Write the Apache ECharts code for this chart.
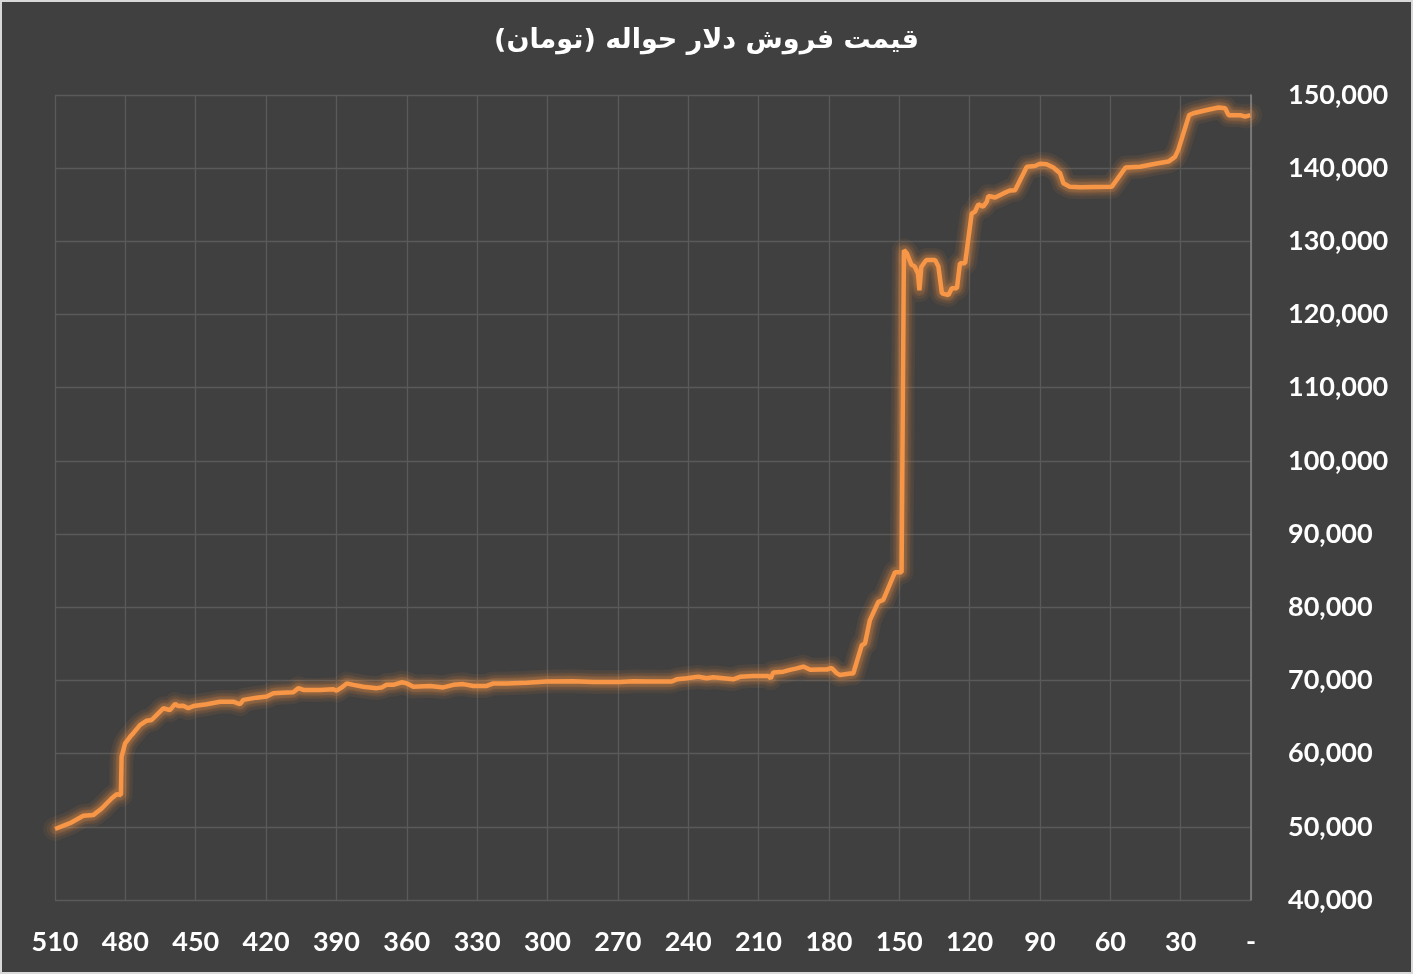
<!DOCTYPE html>
<html>
<head>
<meta charset="utf-8">
<script src="https://cdn.jsdelivr.net/npm/echarts@6/dist/echarts.min.js"></script>
<style>
html,body{margin:0;padding:0;background:#404040;}
#chart{width:1413px;height:974px;}
</style>
</head>
<body>
<div id="chart"></div>
<script>
const titleText = 'قیمت فروش دلار حواله (تومان)';
const xTicks = [510,480,450,420,390,360,330,300,270,240,210,180,150,120,90,60,30,0];
const yTicks = [40000,50000,60000,70000,80000,90000,100000,110000,120000,130000,140000,150000];
const days = [510,503.6,497.9,493.7,490.1,485.8,483.7,481.9,481.6,480.1,478,476.6,473.8,470.9,468.8,466.6,463.8,461,458.8,457.4,455.3,453.2,451,445.3,439.6,434,431.1,429.7,424,419.7,416.9,411.2,408.4,406.2,404.1,397,391.3,389.9,387.7,385.6,382.8,378.5,372.8,370.7,368.6,365.7,362.2,360,357.2,350.1,344.4,340.1,335.9,331.6,325.9,323.1,317.4,308.9,300.3,289,280.4,269,263.4,254.9,247,244.9,240.6,235.7,232.1,229.3,225,220.8,217.9,212.2,205.8,204.8,203.7,199.4,196.6,193.7,190.9,188,183.8,180.9,178.8,176.7,175.3,171,169.6,166,164.6,162.5,158.9,156.8,151.8,149,148,146.8,144.8,143.5,142,141.4,140.6,138.5,134.7,133.3,131.8,129,127.6,125.4,124.1,121.9,119.1,117.7,116.3,114.2,112.7,112,109.1,105.6,102.8,100.6,95.6,92.1,90,87.2,84.3,81.4,80,77.2,72.9,59.4,53.5,47.3,40.2,35.2,32.4,31,26.4,24.6,18.8,13.8,11,9.6,4.6,2.5,0.3];
const prices = [49700,50500,51500,51600,52500,53900,54450,54350,59600,61400,62300,62800,63900,64500,64600,65300,66200,65950,66800,66500,66550,66200,66500,66750,67100,67100,66750,67350,67650,67800,68250,68350,68400,68950,68700,68700,68800,68600,69050,69600,69400,69150,68950,69050,69400,69400,69750,69600,69150,69250,69050,69400,69500,69250,69250,69600,69600,69700,69850,69900,69800,69800,69900,69850,69850,70150,70300,70500,70300,70450,70300,70150,70500,70600,70600,70300,71100,71200,71450,71650,71900,71450,71500,71500,71700,71000,70750,70950,70950,74800,75050,78250,80750,81000,84800,84800,128800,128400,126800,126600,125600,123300,126500,127450,127450,126550,122900,122650,123600,123600,127000,127000,133800,134050,135050,134750,135400,136200,136000,136550,136950,137000,140200,140300,140600,140550,140100,139300,137950,137450,137400,137450,140100,140200,140650,140900,141550,142500,147250,147500,147950,148300,148200,147250,147250,147050,147250];

const seriesData = days.map((d, i) => [d, prices[i]]);
const labelFont = 'Lato, "Open Sans", sans-serif';

function glowLayer(width, alpha) {
  return {
    type: 'line', data: seriesData, showSymbol: false, smooth: false, silent: true,
    lineStyle: {color: 'rgba(247,150,70,' + alpha + ')', width: width, cap: 'round', join: 'round',
      shadowBlur: 8, shadowColor: 'rgba(247,150,70,' + alpha + ')'},
    itemStyle: {color: '#F79646'}
  };
}

const chart = echarts.init(document.getElementById('chart'), null, {renderer: 'canvas'});
chart.setOption({
  backgroundColor: '#404040',
  animation: false,
  title: {
    text: titleText,
    left: 'center',
    top: 22,
    textStyle: {color: '#ffffff', fontFamily: '"DejaVu Sans", sans-serif', fontWeight: 'bold', fontSize: 27}
  },
  graphic: [{
    type: 'rect', silent: true,
    shape: {x: 0, y: 0, width: 1413, height: 974},
    style: {fill: 'none', stroke: '#d9d9d9', lineWidth: 4}
  }],
  grid: {left: 55, right: 162, top: 95, bottom: 74},
  xAxis: {
    type: 'value', inverse: true, min: 0, max: 510, interval: 30,
    axisLine: {show: false}, axisTick: {show: false},
    splitLine: {show: true, lineStyle: {color: '#5a5a5a', width: 1.3}},
    axisLabel: {
      color: '#ffffff', fontFamily: labelFont, fontWeight: 'bold', fontSize: 27, margin: 29,
      formatter: v => v === 0 ? '-' : String(v)
    }
  },
  yAxis: {
    type: 'value', position: 'right', min: 40000, max: 150000, interval: 10000,
    axisLine: {show: true, lineStyle: {color: '#858585', width: 1.5}},
    axisTick: {show: false},
    splitLine: {show: true, lineStyle: {color: '#5a5a5a', width: 1.3}},
    axisLabel: {
      color: '#ffffff', fontFamily: labelFont, fontWeight: 'bold', fontSize: 27, margin: 37,
      formatter: v => v.toLocaleString('en-US')
    }
  },
  series: [
    glowLayer(24, 0.06),
    glowLayer(17, 0.08),
    glowLayer(11, 0.12),
    {
      type: 'line', data: seriesData, showSymbol: false, smooth: false,
      lineStyle: {color: '#F79646', width: 4.5, shadowBlur: 8, shadowColor: 'rgba(247,150,70,0.8)'},
      itemStyle: {color: '#F79646'}
    }
  ]
});
</script>
</body>
</html>
